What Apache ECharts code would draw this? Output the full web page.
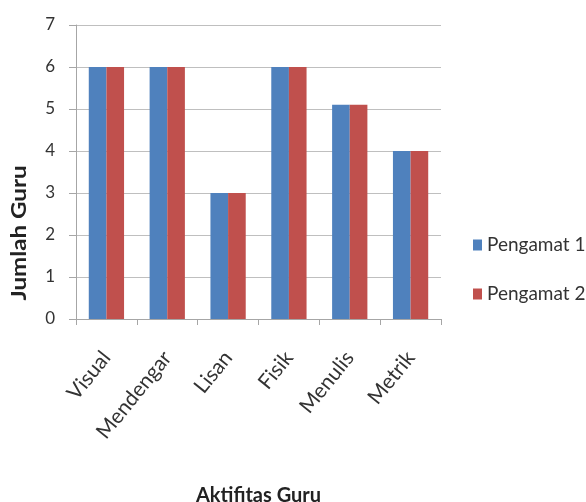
<!DOCTYPE html>
<html>
<head>
<meta charset="utf-8">
<script src="https://cdn.jsdelivr.net/npm/echarts@6/dist/echarts.min.js"></script>
<style>
html,body{margin:0;padding:0;background:#fff;}
#chart{width:586px;height:502px;}
</style>
</head>
<body>
<div id="chart"></div>
<script>
var categories = ['Visual', 'Mendengar', 'Lisan', 'Fisik', 'Menulis', 'Metrik'];
var pengamat1 = [6, 6, 3, 6, 5.1, 4];
var pengamat2 = [6, 6, 3, 6, 5.1, 4];
var seriesNames = ['Pengamat 1', 'Pengamat 2'];
var yTitle = 'Jumlah Guru';
var xTitle = 'Aktifitas Guru';

var chart = echarts.init(document.getElementById('chart'), null, {renderer: 'canvas'});
var fam = 'Lato, "Liberation Sans", Arial, sans-serif';
chart.setOption({
  animation: false,
  backgroundColor: '#ffffff',
  grid: {left: 76, right: 145, top: 25, bottom: 183, containLabel: false, outerBoundsMode: 'none'},
  legend: {
    orient: 'vertical',
    left: 468,
    top: 229,
    padding: 5,
    itemWidth: 9,
    itemHeight: 11,
    itemGap: 27,
    icon: 'rect',
    data: seriesNames,
    textStyle: {fontFamily: fam, fontSize: 19, color: '#333', lineHeight: 22}
  },
  xAxis: {
    type: 'category',
    data: categories,
    name: xTitle,
    nameLocation: 'middle',
    nameGap: 167,
    nameTextStyle: {fontFamily: fam, fontSize: 20, fontWeight: 'bold', color: '#222'},
    axisLine: {show: true, lineStyle: {color: '#a6a6a6', width: 1}},
    axisTick: {show: true, length: 6, lineStyle: {color: '#a6a6a6'}},
    axisLabel: {rotate: 51, margin: 35, fontFamily: fam, fontSize: 21, color: '#333', interval: 0},
    splitLine: {show: false}
  },
  yAxis: {
    type: 'value',
    min: 0,
    max: 7,
    interval: 1,
    axisLine: {show: true, lineStyle: {color: '#a6a6a6', width: 1}},
    axisTick: {show: true, length: 7, lineStyle: {color: '#a6a6a6'}},
    axisLabel: {margin: 21, fontFamily: fam, fontSize: 17, color: '#333'},
    splitLine: {show: true, lineStyle: {color: '#bfbfbf', width: 1}}
  },
  graphic: [{
    type: 'text',
    x: 19,
    y: 233,
    rotation: Math.PI / 2,
    scaleX: 1.15,
    style: {
      text: yTitle,
      font: 'bold 21px Lato, "Liberation Sans", Arial, sans-serif',
      fill: '#222',
      textAlign: 'center',
      textVerticalAlign: 'middle'
    }
  }],
  series: [{
    name: seriesNames[0],
    type: 'bar',
    data: pengamat1,
    barGap: '0%',
    barCategoryGap: '42%',
    itemStyle: {color: '#4F81BD'}
  }, {
    name: seriesNames[1],
    type: 'bar',
    data: pengamat2,
    barGap: '0%',
    barCategoryGap: '42%',
    itemStyle: {color: '#C0504D'}
  }]
});
</script>
</body>
</html>
